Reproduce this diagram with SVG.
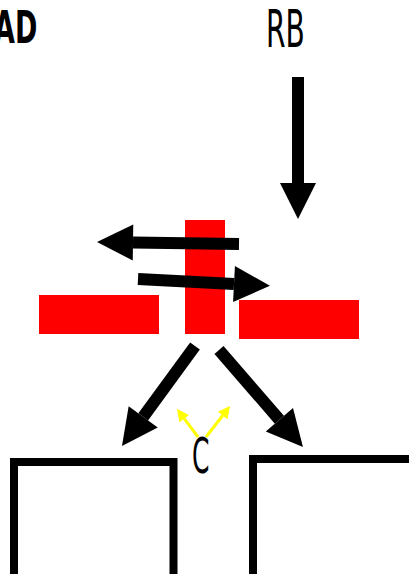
<svg xmlns="http://www.w3.org/2000/svg" width="409" height="574" viewBox="0 0 409 574">
<style>
.red{fill:#ff0000}
.box{fill:none;stroke:#000;stroke-width:8}
.big{stroke:#000;stroke-width:12;fill:none}
.yel{stroke:#ffff00;stroke-width:3;fill:none}
.thin{font-family:"DejaVu Sans",sans-serif;font-weight:normal;fill:#000}
.bold{font-family:"DejaVu Sans",sans-serif;font-weight:bold;fill:#000}
</style>
<defs>
<marker id="bh" markerUnits="userSpaceOnUse" markerWidth="36" markerHeight="36" viewBox="0 0 36 36" refX="0" refY="18" orient="auto" overflow="visible">
<path d="M0,0 L36,18 L0,36 Z" fill="#000"/>
</marker>
<marker id="yh" markerUnits="userSpaceOnUse" markerWidth="12" markerHeight="12" viewBox="0 0 12 12" refX="0" refY="6" orient="auto" overflow="visible">
<path d="M0,0 L12,6 L0,12 Z" fill="#ffff00"/>
</marker>
</defs>
<g id="AD"><text class="bold" transform="translate(-6,43) scale(0.6,1)" font-size="45">AD</text></g>
<g id="RB"><text class="thin" transform="translate(266,47) scale(0.55,1)" font-size="51">RB</text></g>
<g id="C"><text class="thin" transform="translate(192,473) scale(0.5,1)" font-size="50">C</text></g>
<g id="redLeft"><rect class="red" x="39" y="295" width="120" height="39"/></g>
<g id="redCenter"><rect class="red" x="185" y="220" width="40" height="114"/></g>
<g id="redRight"><rect class="red" x="239" y="300" width="120" height="39"/></g>
<g id="boxLeft"><path class="box" d="M14,600 V462 H173.5 V600"/></g>
<g id="boxRight"><path class="box" d="M253,600 V459 H420"/></g>
<g id="connectors">
<line class="big" x1="298" y1="77" x2="298" y2="183" marker-end="url(#bh)"/>
<line class="big" x1="239" y1="244" x2="133" y2="242.5" marker-end="url(#bh)"/>
<line class="big" x1="138" y1="279" x2="234" y2="284" marker-end="url(#bh)"/>
<line class="big" x1="195" y1="346" x2="143.2" y2="416.9" marker-end="url(#bh)"/>
<line class="big" x1="219" y1="350" x2="279.4" y2="419.8" marker-end="url(#bh)"/>
<line class="yel" x1="198" y1="437" x2="184.2" y2="418.6" marker-end="url(#yh)"/>
<line class="yel" x1="206" y1="437" x2="222.7" y2="415.5" marker-end="url(#yh)"/>
</g>
</svg>
